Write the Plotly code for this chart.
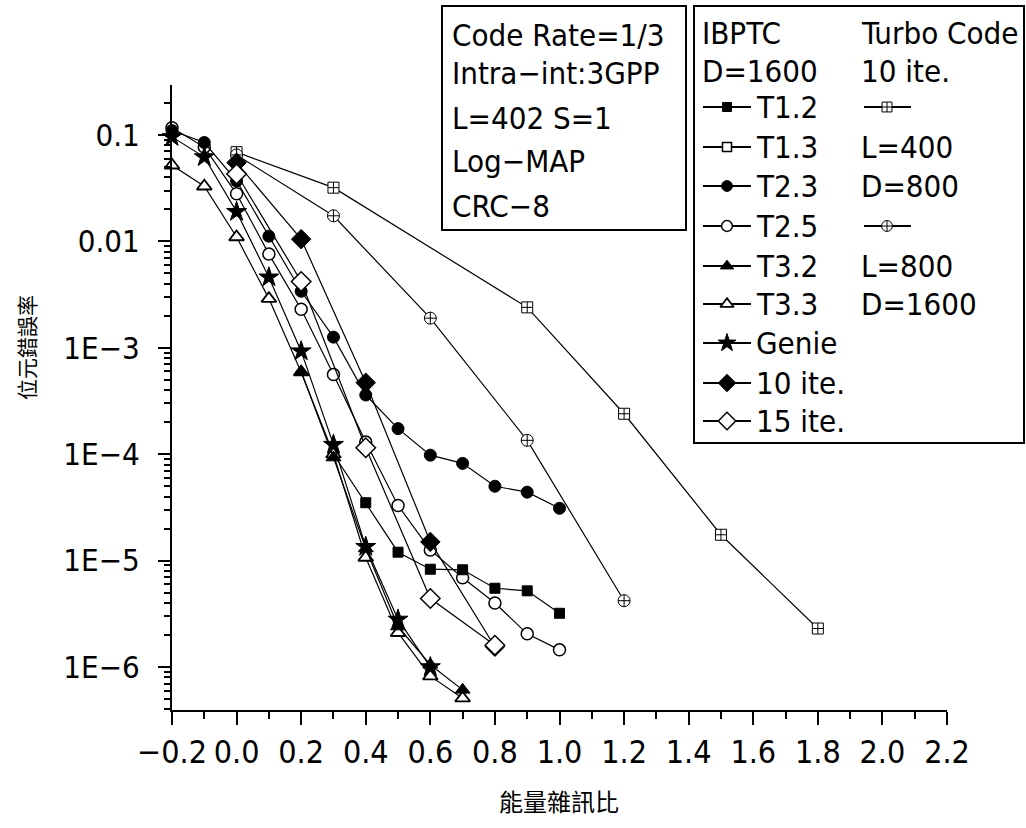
import plotly.graph_objects as go

# ---------------- data ----------------
snr_t12 = [0.3, 0.4, 0.5, 0.6, 0.7, 0.8, 0.9, 1.0]
ber_t12 = [1.0e-4, 3.5e-5, 1.2e-5, 8.3e-6, 8.2e-6, 5.5e-6, 5.2e-6, 3.2e-6]

snr_t23 = [-0.2, -0.1, 0.0, 0.1, 0.2, 0.3, 0.4, 0.5, 0.6, 0.7, 0.8, 0.9, 1.0]
ber_t23 = [0.11, 0.085, 0.037, 0.0112, 0.0034, 1.26e-3, 3.6e-4, 1.74e-4,
           9.8e-5, 8.2e-5, 5.0e-5, 4.4e-5, 3.1e-5]

snr_t25 = [-0.2, -0.1, 0.0, 0.1, 0.2, 0.3, 0.4, 0.5, 0.6, 0.7, 0.8, 0.9, 1.0]
ber_t25 = [0.117, 0.077, 0.028, 0.0076, 0.0023, 5.6e-4, 1.3e-4, 3.3e-5,
           1.26e-5, 6.9e-6, 4.0e-6, 2.05e-6, 1.45e-6]

snr_t32 = [0.2, 0.3, 0.4, 0.5, 0.6, 0.7]
ber_t32 = [6.0e-4, 9.3e-5, 1.3e-5, 2.4e-6, 1.05e-6, 6.1e-7]

snr_t33 = [-0.2, -0.1, 0.0, 0.1, 0.2, 0.3, 0.4, 0.5, 0.6, 0.7]
ber_t33 = [0.052, 0.033, 0.011, 0.0029, 5.9e-4, 1.0e-4, 1.07e-5, 2.1e-6, 8.2e-7, 5.1e-7]

snr_genie = [-0.2, -0.1, 0.0, 0.1, 0.2, 0.3, 0.4, 0.5, 0.6]
ber_genie = [0.096, 0.062, 0.019, 0.0046, 9.3e-4, 1.23e-4, 1.35e-5, 2.8e-6, 1.0e-6]

snr_it10 = [0.0, 0.2, 0.4, 0.6, 0.8]
ber_it10 = [0.055, 0.0105, 4.7e-4, 1.5e-5, 1.55e-6]

snr_it15 = [0.0, 0.2, 0.4, 0.6, 0.8]
ber_it15 = [0.043, 0.0042, 1.15e-4, 4.4e-6, 1.6e-6]

snr_tc400 = [0.0, 0.3, 0.9, 1.2, 1.5, 1.8]
ber_tc400 = [0.069, 0.032, 0.0024, 2.4e-4, 1.75e-5, 2.3e-6]

snr_tc800 = [0.0, 0.3, 0.6, 0.9, 1.2]
ber_tc800 = [0.065, 0.0174, 0.0019, 1.35e-4, 4.2e-6]

x_ticks = [-0.2, 0.0, 0.2, 0.4, 0.6, 0.8, 1.0, 1.2, 1.4, 1.6, 1.8, 2.0, 2.2]
x_ticktext = ["\u22120.2", "0.0", "0.2", "0.4", "0.6", "0.8", "1.0", "1.2",
              "1.4", "1.6", "1.8", "2.0", "2.2"]
y_ticks = [1e-6, 1e-5, 1e-4, 1e-3, 1e-2, 1e-1]
y_ticktext = ["1E\u22126", "1E\u22125", "1E\u22124", "1E\u22123", "0.01", "0.1"]

info_lines = ["Code Rate=1/3", "Intra\u2212int:3GPP", "L=402 S=1", "Log\u2212MAP", "CRC\u22128"]
legend_labels = ["T1.2", "T1.3", "T2.3", "T2.5", "T3.2", "T3.3", "Genie", "10 ite.", "15 ite."]
turbo_lines = ["Turbo Code", "10 ite.", None, "L=400", "D=800", None, "L=800", "D=1600"]

# ---------------- styling ----------------
W, H = 1026, 828
PL, PR, PT, PB = 172, 947, 85, 710  # plot box in px
FONT = "Liberation Sans Narrow, DejaVu Sans Condensed, Liberation Sans, Arial, sans-serif"
CJK = "Noto Sans CJK TC, Noto Sans CJK SC, sans-serif"

styles = {
    "T1.2": dict(symbol="square", size=10, color="black", lw=1),
    "T1.3": dict(symbol="square", size=10, color="white", lw=1.5),
    "T2.3": dict(symbol="circle", size=12, color="black", lw=1),
    "T2.5": dict(symbol="circle", size=12, color="white", lw=1.5),
    "T3.2": dict(symbol="triangle-up", size=13, color="black", lw=1),
    "T3.3": dict(symbol="triangle-up", size=13, color="white", lw=1.8),
    "Genie": dict(symbol="star", size=15, color="black", lw=1),
    "10 ite.": dict(symbol="diamond", size=15, color="black", lw=1),
    "15 ite.": dict(symbol="diamond", size=15, color="white", lw=1.5),
    "TC400": dict(symbol="square-cross", size=11, color="white", lw=1),
    "TC800": dict(symbol="circle-cross", size=12, color="white", lw=1),
}


def mk(st, scale=1.0):
    return dict(symbol=st["symbol"], size=st["size"] * scale, color=st["color"],
                line=dict(color="black", width=st["lw"]))


fig = go.Figure()

series = [
    ("TC400", snr_tc400, ber_tc400),
    ("TC800", snr_tc800, ber_tc800),
    ("T2.5", snr_t25, ber_t25),
    ("T2.3", snr_t23, ber_t23),
    ("T1.2", snr_t12, ber_t12),
    ("T3.3", snr_t33, ber_t33),
    ("T3.2", snr_t32, ber_t32),
    ("Genie", snr_genie, ber_genie),
    ("10 ite.", snr_it10, ber_it10),
    ("15 ite.", snr_it15, ber_it15),
]
for name, xs, ys in series:
    fig.add_trace(go.Scatter(x=xs, y=ys, mode="lines+markers", name=name,
                             line=dict(color="black", width=1.2),
                             marker=mk(styles[name]), showlegend=False,
                             cliponaxis=False, xaxis="x", yaxis="y"))

# ---------------- custom legend (pixel-space helper axes) ----------------
rows = [107, 147, 186, 226, 266, 304, 343, 383, 421]
for lab, yy in zip(legend_labels, rows):
    fig.add_trace(go.Scatter(x=[703, 751], y=[yy, yy], mode="lines",
                             line=dict(color="black", width=2),
                             showlegend=False, xaxis="x2", yaxis="y2"))
    fig.add_trace(go.Scatter(x=[727], y=[yy], mode="markers",
                             marker=mk(styles[lab], 0.9),
                             showlegend=False, xaxis="x2", yaxis="y2"))
for key, yy in (("TC400", rows[0]), ("TC800", rows[3])):
    fig.add_trace(go.Scatter(x=[864, 911], y=[yy, yy], mode="lines",
                             line=dict(color="black", width=2),
                             showlegend=False, xaxis="x2", yaxis="y2"))
    fig.add_trace(go.Scatter(x=[887], y=[yy], mode="markers",
                             marker=mk(styles[key], 0.9),
                             showlegend=False, xaxis="x2", yaxis="y2"))

annotations = []


def txt(x, y, s, size=31, family=FONT, **kw):
    annotations.append(dict(x=x / W, y=1 - y / H, xref="paper", yref="paper",
                            text=s, showarrow=False, xanchor=kw.pop("xanchor", "left"),
                            yanchor="middle", font=dict(family=family, size=size, color="black"),
                            **kw))


info_rows = [35, 73, 118, 161, 206]
for s, yy in zip(info_lines, info_rows):
    txt(450, yy, s)
txt(700, 33, "IBPTC")
txt(700, 71, "D=1600")
for lab, yy in zip(legend_labels, rows):
    txt(754, yy, lab)
col2_rows = [33, 71] + rows[:6]
for s, yy in zip(turbo_lines, col2_rows):
    if s is not None:
        txt(859, yy, s)

# axis titles
txt(559, 800, "能量雜訊比", size=24, family=CJK, xanchor="center")
annotations.append(dict(x=26 / W, y=1 - 348 / H, xref="paper", yref="paper", text="位元錯誤率",
                        textangle=-90, showarrow=False, xanchor="center", yanchor="middle",
                        font=dict(family=CJK, size=21, color="black")))

shapes = [
    dict(type="rect", xref="paper", yref="paper", x0=442 / W, x1=686 / W,
         y0=1 - 230 / H, y1=1 - 6 / H, line=dict(color="black", width=2)),
    dict(type="rect", xref="paper", yref="paper", x0=694 / W, x1=1024 / W,
         y0=1 - 443 / H, y1=1 - 6 / H, line=dict(color="black", width=2)),
]

minor_y = [k * 10.0 ** e for e in range(-7, 0) for k in range(2, 10)]
minor_y = [v for v in minor_y if 4e-7 <= v <= 0.3]
minor_x = [round(-0.1 + 0.2 * i, 1) for i in range(12)]

fig.update_layout(
    template="none",
    width=W, height=H, margin=dict(l=0, r=0, t=0, b=0, pad=0), autosize=False,
    paper_bgcolor="white", plot_bgcolor="rgba(0,0,0,0)",
    font=dict(family=FONT, size=30, color="black"),
    xaxis=dict(domain=[PL / W, PR / W], range=[-0.2, 2.2], anchor="y", automargin=False,
               tickvals=x_ticks, ticktext=x_ticktext, tickangle=0, ticks="outside", ticklen=13,
               tickwidth=2, tickcolor="black", showline=True, linecolor="black",
               linewidth=2, showgrid=False, zeroline=False,
               tickfont=dict(family=FONT, size=32),
               minor=dict(tickvals=minor_x, ticks="outside", ticklen=7, tickwidth=2,
                          tickcolor="black", showgrid=False)),
    yaxis=dict(domain=[1 - PB / H, 1 - PT / H], type="log", range=[-6.404, -0.53],
               anchor="x", automargin=False, tickvals=y_ticks, ticktext=y_ticktext,
               ticks="outside", ticklen=12, tickwidth=2, tickcolor="black", showline=True,
               linecolor="black", linewidth=2, showgrid=False, zeroline=False,
               tickfont=dict(family=FONT, size=31), ticklabelstandoff=12,
               minor=dict(tickvals=minor_y, ticks="outside", ticklen=6, tickwidth=1.5,
                          tickcolor="black", showgrid=False)),
    xaxis2=dict(domain=[0, 1], range=[0, W], anchor="y2", visible=False, fixedrange=True,
                automargin=False),
    yaxis2=dict(domain=[0, 1], range=[H, 0], anchor="x2", visible=False, fixedrange=True,
                automargin=False),
    annotations=annotations, shapes=shapes, showlegend=False,
)

fig.write_html("out.html", include_plotlyjs=True,
               config={"displayModeBar": False, "responsive": False},
               post_script="document.body.style.margin='0';")
